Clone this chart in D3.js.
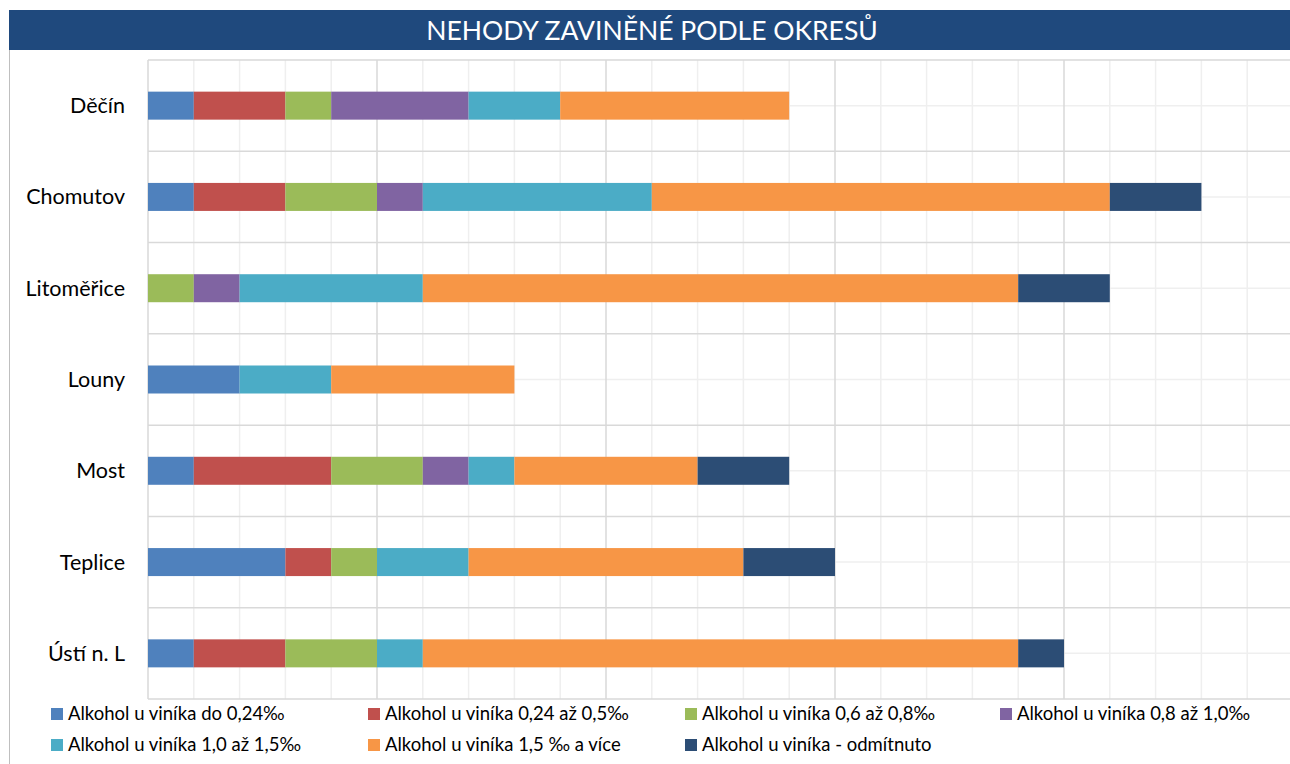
<!DOCTYPE html>
<html>
<head>
<meta charset="utf-8">
<script src="https://cdn.jsdelivr.net/npm/d3@7"></script>
<style>
  body { margin: 0; background: #fff; }
  svg { display: block; font-family: Lato, "Open Sans", sans-serif; font-weight: 400; }
</style>
</head>
<body>
<div id="chart"></div>
<script>
// kategorie (okresy)
const okresy = ["Děčín", "Chomutov", "Litoměřice", "Louny", "Most", "Teplice", "Ústí n. L"];

// série podle hladiny alkoholu
const do024 = [1, 1, 0, 2, 1, 3, 1];
const od024do05 = [2, 2, 0, 0, 3, 1, 2];
const od06do08 = [1, 2, 1, 0, 2, 1, 2];
const od08do10 = [3, 1, 1, 0, 1, 0, 0];
const od10do15 = [2, 5, 4, 2, 1, 2, 1];
const nad15 = [5, 10, 13, 4, 4, 6, 13];
const odmitnuto = [0, 2, 2, 0, 2, 2, 1];

const nazvy = [
  "Alkohol u viníka do 0,24‰",
  "Alkohol u viníka 0,24 až 0,5‰",
  "Alkohol u viníka 0,6 až 0,8‰",
  "Alkohol u viníka 0,8 až 1,0‰",
  "Alkohol u viníka 1,0 až 1,5‰",
  "Alkohol u viníka 1,5 ‰ a více",
  "Alkohol u viníka - odmítnuto"
];
const barvy = ["#4f81bd", "#c0504d", "#9bbb59", "#8064a2", "#4bacc6", "#f79646", "#2c4d75"];

const serie = [do024, od024do05, od06do08, od08do10, od10do15, nad15, odmitnuto];
const klice = serie.map((s, i) => "s" + i);

// tabulka pro d3.stack
const tabulka = okresy.map((o, r) => {
  const row = { okres: o };
  serie.forEach((s, i) => { row["s" + i] = s[r]; });
  return row;
});

const W = 1290, H = 764;
const svg = d3.select("#chart").append("svg").attr("width", W).attr("height", H);

// titulek
svg.append("rect").attr("x", 9).attr("y", 10).attr("width", W - 9).attr("height", 40).attr("fill", "#1f497d");
svg.append("text").attr("x", 652).attr("y", 40).attr("text-anchor", "middle")
  .attr("fill", "#fff").style("font-size", "26.5px").text("NEHODY ZAVINĚNÉ PODLE OKRESŮ");

// levý okraj
svg.append("line").attr("x1", 9.5).attr("x2", 9.5).attr("y1", 50).attr("y2", H).attr("stroke", "#bfbfbf");

const x = d3.scaleLinear().domain([0, 25]).range([148, 1293]);
const y = d3.scaleBand().domain(okresy).range([60, 699]);

const grid = svg.append("g");
// vedlejší svislé čáry
grid.selectAll(".vminor").data(d3.range(1, 26).filter(v => v % 5 !== 0)).join("line")
  .attr("x1", d => x(d)).attr("x2", d => x(d)).attr("y1", 60).attr("y2", 699)
  .attr("stroke", "#efefef").attr("stroke-width", 1.5);
// vedlejší vodorovné čáry (středy kategorií)
grid.selectAll(".hminor").data(okresy).join("line")
  .attr("x1", 148).attr("x2", W).attr("y1", d => y(d) + y.bandwidth() / 2).attr("y2", d => y(d) + y.bandwidth() / 2)
  .attr("stroke", "#efefef").attr("stroke-width", 1.5);
// hlavní vodorovné čáry
grid.selectAll(".hmajor").data(d3.range(okresy.length + 1)).join("line")
  .attr("x1", 148).attr("x2", W).attr("y1", i => 60 + i * y.step()).attr("y2", i => 60 + i * y.step())
  .attr("stroke", "#d9d9d9").attr("stroke-width", 1.5);
// hlavní svislé čáry
grid.selectAll(".vmajor").data([0, 5, 10, 15, 20, 25]).join("line")
  .attr("x1", d => x(d)).attr("x2", d => x(d)).attr("y1", 60).attr("y2", 699)
  .attr("stroke", "#d9d9d9").attr("stroke-width", 1.5);

// sloupce
const stacked = d3.stack().keys(klice)(tabulka);
const bh = 28;
svg.append("g").selectAll("g").data(stacked).join("g")
  .attr("fill", (d, i) => barvy[i])
  .selectAll("rect").data(d => d).join("rect")
  .attr("x", d => x(d[0]))
  .attr("width", d => x(d[1]) - x(d[0]))
  .attr("y", d => y(d.data.okres) + y.bandwidth() / 2 - bh / 2)
  .attr("height", bh);

// popisky kategorií
svg.append("g").selectAll("text").data(okresy).join("text")
  .attr("x", 125).attr("y", d => y(d) + y.bandwidth() / 2).attr("dy", "0.35em")
  .attr("text-anchor", "end").attr("fill", "#000").style("font-size", "21.5px")
  .text(d => d);

// legenda
const legX = [51, 368, 685, 1000];
const legY = [714, 745];
const leg = svg.append("g").selectAll("g").data(nazvy).join("g")
  .attr("transform", (d, i) => `translate(${legX[i % 4]},${legY[Math.floor(i / 4)]})`);
leg.append("rect").attr("x", 0).attr("y", -6).attr("width", 12).attr("height", 12).attr("fill", (d, i) => barvy[i]);
leg.append("text").attr("x", 17).attr("dy", "0.35em").style("font-size", "18.5px").attr("fill", "#000").text(d => d);
</script>
</body>
</html>
